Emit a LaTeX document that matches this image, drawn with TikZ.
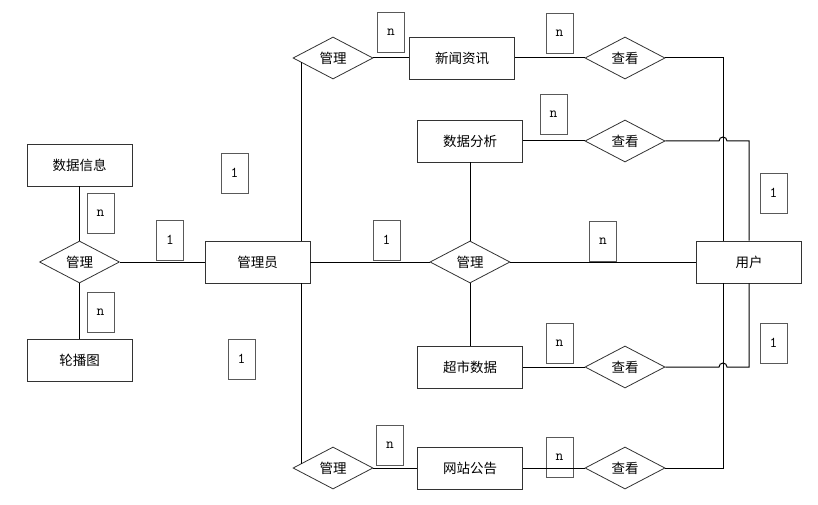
\documentclass[tikz,border=0pt]{standalone}
\usepackage{fontspec}
\newfontfamily\cjk{Noto Sans CJK SC}
\usepackage{tikz}
\usetikzlibrary{shapes.geometric}

\tikzset{
  ent/.style={draw=black!80, line width=0.8pt, fill=white, minimum width=105pt,
    minimum height=42pt, inner sep=0pt, font=\cjk\fontsize{13.5}{15}\selectfont},
  rel/.style={diamond, aspect=2, draw=black!80, line width=0.8pt, fill=white,
    minimum width=80pt, minimum height=42pt, inner sep=0pt,
    font=\cjk\fontsize{13.5}{15}\selectfont},
  card/.style={draw=black!65, line width=0.8pt, minimum width=27pt,
    minimum height=40pt, inner sep=0pt, font=\ttfamily\fontsize{15}{17}\selectfont},
  link/.style={black, line width=1pt}
}

\begin{document}
\begin{tikzpicture}[x=1pt, y=1pt]
  \useasboundingbox (0,0) rectangle (818,-505);
  % entities
  \node[ent] (sjxx) at (79.5,-165) {数据信息};
  \node[ent] (lbt)  at (79.5,-360) {轮播图};
  \node[ent] (gly)  at (257.5,-262) {管理员};
  \node[ent] (xwzx) at (462,-58) {新闻资讯};
  \node[ent] (sjfx) at (470,-141) {数据分析};
  \node[ent] (csdata) at (470,-367) {超市数据};
  \node[ent] (wzgg) at (470,-468) {网站公告};
  \node[ent] (yh)   at (749,-262) {用户};
  % relations
  \node[rel] (gl0) at (79.5,-262) {管理};
  \node[rel] (gl1) at (333,-58) {管理};
  \node[rel] (gl2) at (470,-262) {管理};
  \node[rel] (gl3) at (333,-468) {管理};
  \node[rel] (ck1) at (625,-58) {查看};
  \node[rel] (ck2) at (625,-141) {查看};
  \node[rel] (ck3) at (625,-367) {查看};
  \node[rel] (ck4) at (625,-468) {查看};
  % cardinalities
  \foreach \x/\y/\t [count=\i] in {391/-32/n, 559.5/-33/n, 553.5/-114/n,
      234.5/-173/1, 170/-240/1, 386.5/-240/1, 603/-241/n, 773.5/-193/1,
      100.5/-213/n, 100.5/-312/n, 241.5/-359/1, 559.5/-343/n, 773.5/-343/1,
      390/-445/n, 559.5/-457/n}
    \node[card] (c\i) at (\x,\y) {\t};
  % left part
  \draw[link] (sjxx) -- (gl0);
  \draw[link] (gl0) -- (lbt);
  \draw[link] (gl0) -- (gly);
  % admin to the news and notices
  \draw[link] ([xshift=-9pt]gly.north east)
    -- ([xshift=-9pt,yshift=-4.2pt]gly.north east |- gl1.west);
  \draw[link] ([xshift=-9pt]gly.south east)
    -- ([xshift=-9pt,yshift=4.2pt]gly.south east |- gl3.west);
  \draw[link] (gl1) -- (xwzx);
  \draw[link] (gl3) -- (wzgg);
  % middle
  \draw[link] (gly) -- (gl2);
  \draw[link] (gl2) -- (yh);
  \draw[link] (sjfx) -- (gl2);
  \draw[link] (gl2) -- (csdata);
  % users view
  \draw[link] (xwzx) -- (ck1);
  \draw[link] (sjfx.east |- ck2) -- (ck2);
  \draw[link] (csdata) -- (ck3);
  \draw[link] (wzgg) -- (ck4);
  \draw[link] (ck1.east) -| ([xshift=-26pt]yh.north);
  \draw[link] (ck4.east) -| ([xshift=-26pt]yh.south);
  \draw[link] (ck2.east) -- ([xshift=-30pt]yh.north |- ck2.east)
    arc (180:0:4pt) -| (yh.north);
  \draw[link] (ck3.east) -- ([xshift=-30pt]yh.south |- ck3.east)
    arc (180:0:4pt) -| (yh.south);
\end{tikzpicture}
\end{document}
